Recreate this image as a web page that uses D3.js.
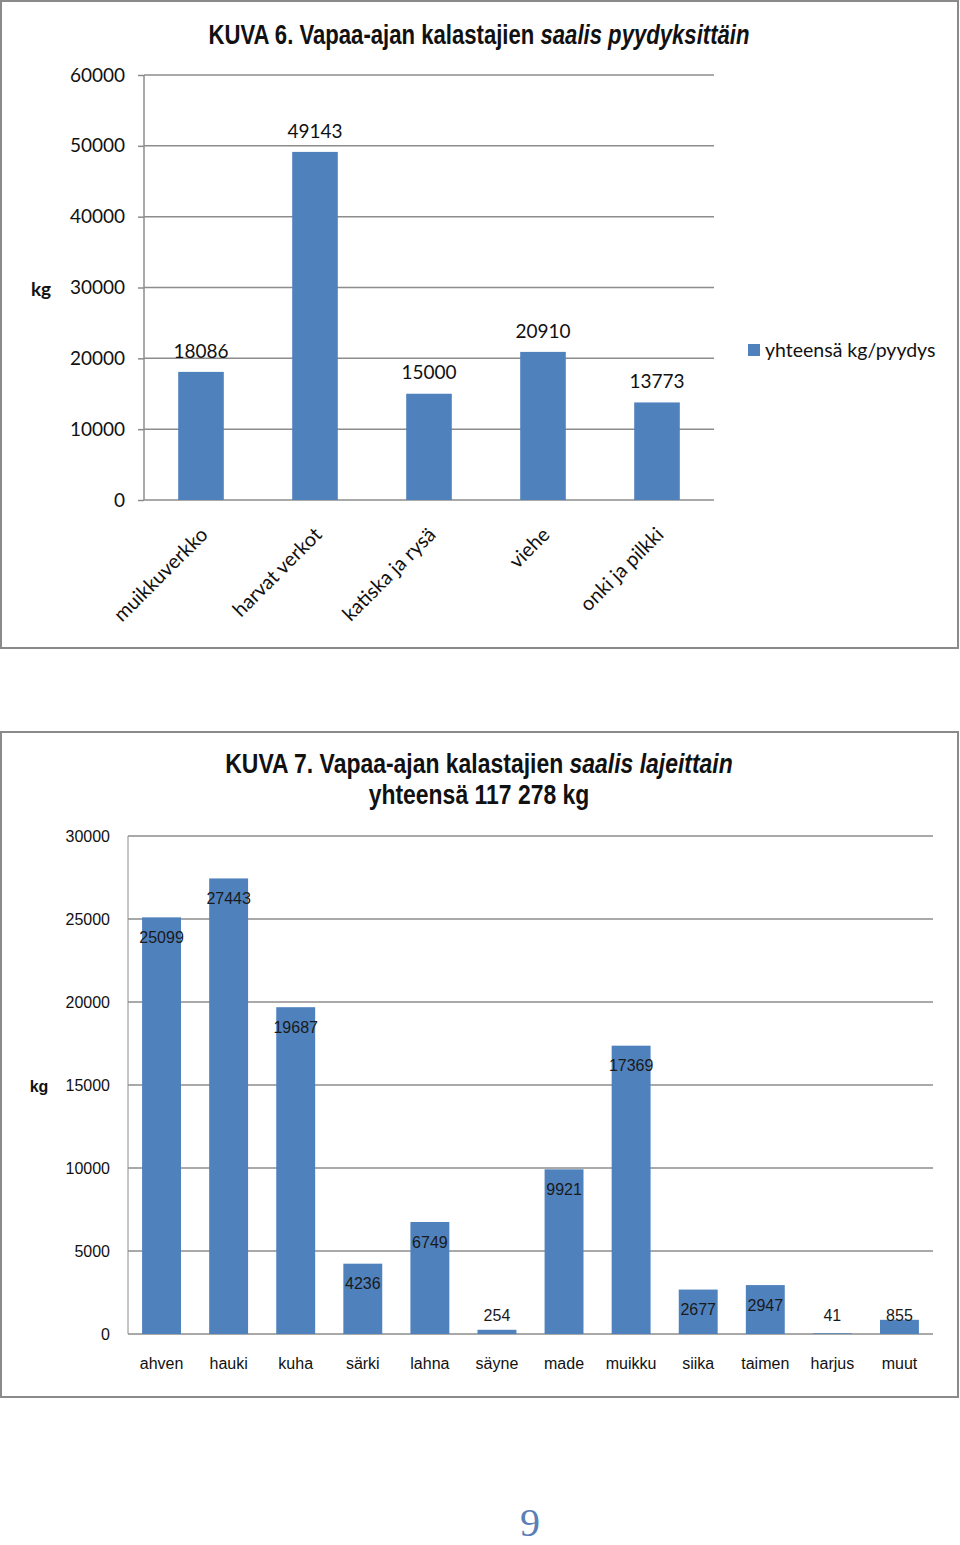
<!DOCTYPE html>
<html><head><meta charset="utf-8">
<script src="https://cdn.jsdelivr.net/npm/d3@7"></script>
<style>body{margin:0;background:#fff}svg{display:block}</style>
</head><body>
<svg id="c" width="960" height="1545"></svg>
<script>
const cats1 = ["muikkuverkko","harvat verkot","katiska ja rysä","viehe","onki ja pilkki"];
const vals1 = [18086,49143,15000,20910,13773];
const ticks1 = [0,10000,20000,30000,40000,50000,60000];
const cats2 = ["ahven","hauki","kuha","särki","lahna","säyne","made","muikku","siika","taimen","harjus","muut"];
const vals2 = [25099,27443,19687,4236,6749,254,9921,17369,2677,2947,41,855];
const ticks2 = [0,5000,10000,15000,20000,25000,30000];
const legend1 = "yhteensä kg/pyydys";

const BAR = "#4F81BD", GRID = "#8c8c8c", TXT = "#111";
const F1 = "Lato, 'Open Sans', sans-serif";
const FN = "'Liberation Sans Narrow', 'Liberation Sans', sans-serif";
const svg = d3.select("#c");

// frames
svg.append("rect").attr("x",1).attr("y",1).attr("width",957).attr("height",647)
  .attr("fill","none").attr("stroke","#8a8a8a").attr("stroke-width",2);
svg.append("rect").attr("x",1).attr("y",732).attr("width",957).attr("height",665)
  .attr("fill","none").attr("stroke","#8a8a8a").attr("stroke-width",2);

// ---------- Chart 1 ----------
{
  const x = d3.scaleBand().domain(cats1).range([144,714]).paddingInner(0.6).paddingOuter(0.3);
  const y = d3.scaleLinear().domain([0,60000]).range([500,75]);
  const g = svg.append("g");
  const ax = g.append("g").attr("transform","translate(144,0)")
    .call(d3.axisLeft(y).tickValues(ticks1).tickSize(6).tickPadding(13).tickFormat(d3.format("d")));
  ax.select(".domain").attr("stroke",GRID).attr("stroke-width",1.5).attr("d","M0,75V500");
  ax.selectAll(".tick line").attr("stroke",GRID).attr("stroke-width",1.5);
  ax.selectAll(".tick text").attr("font-family",F1).attr("font-size",19).attr("fill",TXT);
  g.append("g").selectAll("line").data(ticks1).join("line")
    .attr("x1",144).attr("x2",714).attr("y1",d=>y(d)).attr("y2",d=>y(d))
    .attr("stroke",GRID).attr("stroke-width",1.5);
  g.append("g").selectAll("rect").data(vals1).join("rect")
    .attr("x",(d,i)=>x(cats1[i])).attr("width",x.bandwidth())
    .attr("y",d=>y(d)).attr("height",d=>y(0)-y(d)).attr("fill",BAR);
  g.append("g").selectAll("text").data(vals1).join("text")
    .attr("x",(d,i)=>x(cats1[i])+x.bandwidth()/2).attr("y",d=>y(d)-21).attr("dy","0.35em")
    .attr("text-anchor","middle").attr("font-family",F1).attr("font-size",19).attr("fill",TXT)
    .text(d=>d);
  g.append("g").selectAll("text").data(cats1).join("text")
    .attr("transform",d=>`translate(${x(d)+x.bandwidth()/2+3},531) rotate(-45)`)
    .attr("dy","0.35em").attr("text-anchor","end")
    .attr("font-family",F1).attr("font-size",20).attr("fill",TXT).text(d=>d);
  g.append("text").attr("x",41).attr("y",289).attr("dy","0.35em").attr("text-anchor","middle")
    .attr("font-family",F1).attr("font-weight","bold").attr("font-size",19).attr("fill",TXT).text("kg");
  g.append("rect").attr("x",748).attr("y",344).attr("width",12).attr("height",12).attr("fill",BAR);
  g.append("text").attr("x",765).attr("y",350).attr("dy","0.35em")
    .attr("font-family",F1).attr("font-size",19.5).attr("fill",TXT).text(legend1);
  const t = g.append("text").attr("transform","translate(479,35) scale(0.82,1)").attr("dy","0.35em").attr("text-anchor","middle")
    .attr("font-family",FN).attr("font-weight","bold").attr("font-size",27).attr("fill",TXT);
  t.append("tspan").text("KUVA 6. Vapaa-ajan kalastajien ");
  t.append("tspan").attr("font-style","italic").text("saalis pyydyksittäin");
}

// ---------- Chart 2 ----------
{
  const x = d3.scaleBand().domain(cats2).range([128,933]).paddingInner(0.42).paddingOuter(0.21);
  const y = d3.scaleLinear().domain([0,30000]).range([1334,836]);
  const g = svg.append("g");
  const ax = g.append("g").attr("transform","translate(128,0)")
    .call(d3.axisLeft(y).tickValues(ticks2).tickSize(0).tickPadding(18).tickFormat(d3.format("d")));
  ax.select(".domain").attr("stroke",GRID).attr("stroke-width",1).attr("d","M0,836V1334");
  ax.selectAll(".tick text").attr("font-family",FN).attr("font-size",16).attr("fill",TXT);
  g.append("g").selectAll("line").data(ticks2).join("line")
    .attr("x1",128).attr("x2",933).attr("y1",d=>y(d)).attr("y2",d=>y(d))
    .attr("stroke",GRID).attr("stroke-width",1.3);
  g.append("g").selectAll("rect").data(vals2).join("rect")
    .attr("x",(d,i)=>x(cats2[i])).attr("width",x.bandwidth())
    .attr("y",d=>y(d)).attr("height",d=>y(0)-y(d)).attr("fill",BAR);
  g.append("g").selectAll("text").data(vals2).join("text")
    .attr("x",(d,i)=>x(cats2[i])+x.bandwidth()/2).attr("y",d=>Math.min(y(d)+20,1315)).attr("dy","0.35em")
    .attr("text-anchor","middle").attr("font-family",FN).attr("font-size",16).attr("fill","#1a1a1a")
    .text(d=>d);
  g.append("g").selectAll("text").data(cats2).join("text")
    .attr("x",d=>x(d)+x.bandwidth()/2).attr("y",1363).attr("dy","0.35em")
    .attr("text-anchor","middle").attr("font-family",FN).attr("font-size",16).attr("fill",TXT).text(d=>d);
  g.append("text").attr("x",39).attr("y",1086).attr("dy","0.35em").attr("text-anchor","middle")
    .attr("font-family",FN).attr("font-weight","bold").attr("font-size",16).attr("fill",TXT).text("kg");
  const t = g.append("text").attr("transform","translate(479,764) scale(0.85,1)").attr("dy","0.35em").attr("text-anchor","middle")
    .attr("font-family",FN).attr("font-weight","bold").attr("font-size",27).attr("fill",TXT);
  t.append("tspan").text("KUVA  7. Vapaa-ajan kalastajien ");
  t.append("tspan").attr("font-style","italic").text("saalis  lajeittain");
  g.append("text").attr("transform","translate(479,795) scale(0.85,1)").attr("dy","0.35em").attr("text-anchor","middle")
    .attr("font-family",FN).attr("font-weight","bold").attr("font-size",27).attr("fill",TXT)
    .text("yhteensä 117 278 kg");
}
svg.append("text").attr("x",530).attr("y",1536).attr("text-anchor","middle")
  .attr("font-family","'Liberation Serif', serif").attr("font-size",40).attr("fill","#5a7fb8").text("9");
</script>
</body></html>
